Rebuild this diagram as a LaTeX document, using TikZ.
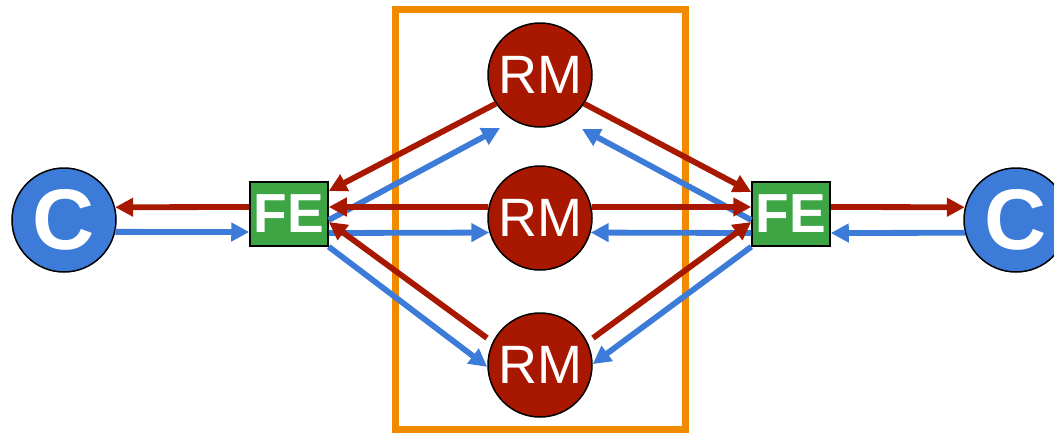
\documentclass[tikz,border=0pt]{standalone}
\usepackage{fontspec}
\setmainfont{Liberation Sans}
\usepackage{xcolor}
\usetikzlibrary{arrows.meta}
\definecolor{rmRed}{HTML}{A81800}
\definecolor{cliBlue}{HTML}{3C7CD8}
\definecolor{feGreen}{HTML}{3DA544}
\definecolor{cajaOrange}{HTML}{F28A00}
\tikzset{
  cliente/.style={circle, draw=black, line width=1.5pt, fill=cliBlue, text=white, minimum size=104pt, inner sep=0pt, font=\fontsize{86}{86}\selectfont\bfseries},
  frontend/.style={draw=black, line width=1.5pt, fill=feGreen, text=white, minimum width=78pt, minimum height=64pt, inner sep=0pt, font=\fontsize{55}{55}\selectfont\bfseries},
  replica/.style={circle, draw=black, line width=1.5pt, fill=rmRed, text=white, minimum size=104pt, inner sep=0pt, font=\fontsize{54}{54}\selectfont},
  caja/.style={draw=cajaOrange, line width=7pt},
  arrred/.style={draw=rmRed, line width=5.8pt, -{Triangle[length=18pt,width=18pt]}},
  arrblue/.style={draw=cliBlue, line width=5.8pt, -{Triangle[length=18pt,width=18pt]}},
}
\begin{document}
\begin{tikzpicture}[x=1pt, y=-1pt]
\useasboundingbox (0,0) rectangle (1054,432);
\draw[caja] (395,9) rectangle (685,429);
\node[cliente] (cL) at (64,220) {C};
\node[cliente] (cR) at (1016,220) {C};
\node[frontend] (feL) at (289,214) {FE};
\node[frontend] (feR) at (791,214) {FE};
\node[replica] (rm1) at (540,75) {RM};
\node[replica] (rm2) at (540,218) {RM};
\node[replica] (rm3) at (540,365) {RM};
% cliente <-> FE
\draw[arrred] ([yshift=7pt]feL.west) -- (cL.14);
\draw[arrblue] (cL.-13) -- ([yshift=-18pt]feL.west);
\draw[arrred] ([yshift=7pt]feR.east) -- (cR.166);
\draw[arrblue] (cR.194) -- ([yshift=-19pt]feR.east);
% FE izquierdo <-> RM
\draw[arrred] (rm1.213) -- ([yshift=23pt]feL.east);
\draw[arrblue] ([yshift=-6pt]feL.east) -- ([shift={(-40,53)}]rm1.center);
\draw[arrred] (rm2.168) -- ([yshift=7pt]feL.east);
\draw[arrblue] ([yshift=-19pt]feL.east) -- (rm2.196);
\draw[arrred] ([shift={(-53,-27)}]rm3.center) -- ([yshift=-8pt]feL.east);
\draw[arrblue] (feL.south east) -- (rm3.182);
% FE derecho <-> RM
\draw[arrred] (rm1.327) -- ([yshift=22pt]feR.west);
\draw[arrblue] ([yshift=-6pt]feR.west) -- ([shift={(42,54)}]rm1.center);
\draw[arrred] (rm2.12) -- ([yshift=7pt]feR.west);
\draw[arrblue] ([yshift=-19pt]feR.west) -- (rm2.344);
\draw[arrred] ([shift={(53,-27)}]rm3.center) -- ([yshift=-8pt]feR.west);
\draw[arrblue] (feR.south west) -- (rm3.1);
\end{tikzpicture}
\end{document}
